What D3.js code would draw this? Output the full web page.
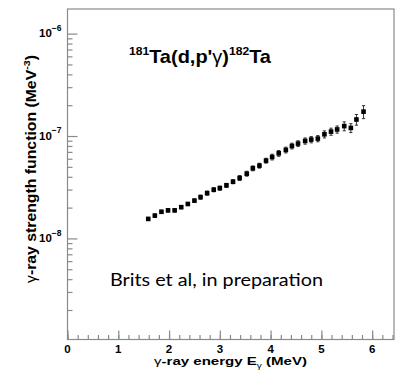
<!DOCTYPE html>
<html>
<head>
<meta charset="utf-8">
<script src="https://cdn.jsdelivr.net/npm/d3@7"></script>
<style>
  body { margin: 0; background: #fff; }
  svg { display: block; }
</style>
</head>
<body>
<svg id="chart" width="401" height="372"></svg>
<script>
'use strict';

/* gamma-ray strength function, 181Ta(d,p'g)182Ta */
const energy = [1.59, 1.72, 1.85, 1.98, 2.11, 2.24, 2.37, 2.50, 2.62, 2.75, 2.88, 3.00,
                3.13, 3.26, 3.39, 3.53, 3.65, 3.78, 3.91, 4.03, 4.16, 4.30, 4.42, 4.54,
                4.68, 4.80, 4.93, 5.06, 5.19, 5.31, 5.45, 5.58, 5.69, 5.83];
const strength = [1.55e-8, 1.67e-8, 1.82e-8, 1.88e-8, 1.88e-8, 2.02e-8, 2.17e-8, 2.34e-8,
                  2.53e-8, 2.77e-8, 2.99e-8, 3.10e-8, 3.30e-8, 3.58e-8, 3.89e-8, 4.29e-8,
                  4.84e-8, 5.14e-8, 5.75e-8, 6.24e-8, 6.78e-8, 7.31e-8, 7.99e-8, 8.44e-8,
                  8.95e-8, 9.23e-8, 9.44e-8, 1.04e-7, 1.105e-7, 1.16e-7, 1.25e-7, 1.20e-7,
                  1.45e-7, 1.73e-7];
const strengthErr = [5.4e-10, 5.8e-10, 6.4e-10, 6.6e-10, 6.6e-10, 7.1e-10, 7.6e-10, 8.2e-10,
                     1.14e-9, 1.25e-9, 1.35e-9, 1.40e-9, 1.48e-9, 1.61e-9, 2.14e-9, 2.36e-9,
                     2.66e-9, 2.83e-9, 3.16e-9, 4.05e-9, 4.41e-9, 4.75e-9, 5.20e-9, 5.48e-9,
                     6.26e-9, 6.46e-9, 6.61e-9, 8.3e-9, 8.8e-9, 9.3e-9, 1.25e-8, 1.20e-8,
                     1.74e-8, 2.51e-8];

const xMajorTicks = [0, 1, 2, 3, 4, 5, 6];
const xMinorTicks = d3.range(0, 6.41, 0.2);
const yMajorTicks = [1e-8, 1e-7, 1e-6];
const yTickExponents = ['-8', '-7', '-6'];

const L = 67.5, R = 394, T = 9, B = 339.5;
const AXIS = '#8a8a8a';
const FONT = "'Liberation Sans', Arial, sans-serif";

const svg = d3.select('#chart');
const x = d3.scaleLinear().domain([0, 6.43]).range([L, R]);
const y = d3.scaleLog().domain([1.03e-9, 1.74e-6]).range([B, T]);

/* frame */
svg.append('rect')
  .attr('x', L).attr('y', T).attr('width', R - L).attr('height', B - T)
  .attr('fill', 'none').attr('stroke', AXIS).attr('stroke-width', 1.2);

/* y minor ticks: 2..9 per decade */
const yMinorTicks = [];
[-9, -8, -7].forEach(k => d3.range(2, 10).forEach(m => {
  const v = m * Math.pow(10, k);
  if (v > y.domain()[0] && v < y.domain()[1]) yMinorTicks.push(v);
}));

const styleAxis = g => {
  g.select('.domain').remove();
  g.selectAll('line').attr('stroke', AXIS).attr('stroke-width', 1.2);
};

svg.append('g').attr('transform', `translate(${L},0)`)
  .call(d3.axisLeft(y).tickValues(yMinorTicks).tickSize(-5).tickFormat(''))
  .call(styleAxis);
svg.append('g').attr('transform', `translate(${L},0)`)
  .call(d3.axisLeft(y).tickValues(yMajorTicks).tickSize(-10).tickFormat(''))
  .call(styleAxis);
svg.append('g').attr('transform', `translate(0,${B})`)
  .call(d3.axisBottom(x).tickValues(xMinorTicks).tickSize(-4.5).tickFormat(''))
  .call(styleAxis);
svg.append('g').attr('transform', `translate(0,${B})`)
  .call(d3.axisBottom(x).tickValues(xMajorTicks).tickSize(-9).tickFormat(''))
  .call(styleAxis);

/* tick labels */
svg.append('g').selectAll('text').data(xMajorTicks).join('text')
  .attr('x', d => x(d)).attr('y', 352.5)
  .attr('text-anchor', 'middle')
  .style('font', `bold 11.5px ${FONT}`).style('fill', '#000')
  .text(d => d);

const yl = svg.append('g').selectAll('text').data(yMajorTicks).join('text')
  .attr('x', 61.5).attr('y', d => y(d) + 3.8)
  .attr('text-anchor', 'end')
  .style('font', `bold 11.5px ${FONT}`).style('fill', '#000');
yl.append('tspan').text('10');
yl.append('tspan').attr('dy', -6.5).style('font-size', '8.5px')
  .text((d, i) => yTickExponents[i].replace('-', '\u2212'));

/* error bars */
const pts = energy.map((e, i) => ({ e, v: strength[i], err: strengthErr[i] }));
const eb = svg.append('g').attr('stroke', '#333').attr('stroke-width', 1);
eb.selectAll('line.v').data(pts).join('line').attr('class', 'v')
  .attr('x1', d => x(d.e)).attr('x2', d => x(d.e))
  .attr('y1', d => y(d.v - d.err)).attr('y2', d => y(d.v + d.err));
eb.selectAll('line.t').data(pts).join('line').attr('class', 't')
  .attr('x1', d => x(d.e) - 1.6).attr('x2', d => x(d.e) + 1.6)
  .attr('y1', d => y(d.v + d.err)).attr('y2', d => y(d.v + d.err));
eb.selectAll('line.b').data(pts).join('line').attr('class', 'b')
  .attr('x1', d => x(d.e) - 1.6).attr('x2', d => x(d.e) + 1.6)
  .attr('y1', d => y(d.v - d.err)).attr('y2', d => y(d.v - d.err));

/* markers */
const S = 4.6;
svg.append('g').selectAll('rect').data(pts).join('rect')
  .attr('x', d => x(d.e) - S / 2).attr('y', d => y(d.v) - S / 2)
  .attr('width', S).attr('height', S).attr('fill', '#000');

/* title */
const title = svg.append('text').attr('x', 129).attr('y', 62.5)
  .attr('textLength', 142).attr('lengthAdjust', 'spacingAndGlyphs')
  .style('font', `bold 19px ${FONT}`).style('fill', '#000');
title.append('tspan').attr('dy', -7.5).style('font-size', '11.5px').text('181');
title.append('tspan').attr('dy', 7.5).text("Ta(d,p'");
title.append('tspan').style('font-weight', 'normal').text('\u03b3');
title.append('tspan').text(')');
title.append('tspan').attr('dy', -7.5).style('font-size', '11.5px').text('182');
title.append('tspan').attr('dy', 7.5).text('Ta');

/* axis titles */
const xt = svg.append('text').attr('x', 154).attr('y', 364.5)
  .attr('textLength', 153).attr('lengthAdjust', 'spacingAndGlyphs')
  .style('font', `bold 10.5px ${FONT}`).style('fill', '#000');
xt.append('tspan').style('font-weight', 'normal').text('\u03b3');
xt.append('tspan').text('-ray energy E');
xt.append('tspan').attr('dy', 3).style('font-size', '7px').style('font-weight', 'normal').text('\u03b3');
xt.append('tspan').attr('dy', -3).text(' (MeV)');

const ytl = svg.append('text')
  .attr('transform', 'translate(35.5,283) rotate(-90)')
  .attr('textLength', 228).attr('lengthAdjust', 'spacingAndGlyphs')
  .style('font', `bold 14px ${FONT}`).style('fill', '#000');
ytl.append('tspan').style('font-weight', 'normal').text('\u03b3');
ytl.append('tspan').text('-ray strength function (MeV');
ytl.append('tspan').attr('dy', -5.5).style('font-size', '9.5px').text('-3');
ytl.append('tspan').attr('dy', 5.5).text(')');

/* annotation */
svg.append('text').attr('x', 110).attr('y', 285.7)
  .attr('textLength', 213).attr('lengthAdjust', 'spacingAndGlyphs')
  .style('font', "17px Lato, 'Open Sans', sans-serif").style('fill', '#000')
  .text('Brits et al, in preparation');
</script>
</body>
</html>
